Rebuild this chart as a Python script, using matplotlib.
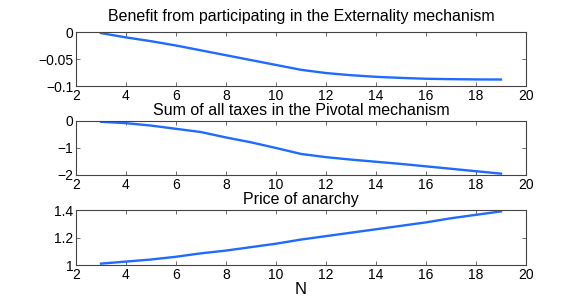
import matplotlib
matplotlib.use("Agg")
import matplotlib.pyplot as plt

# data
n_values = [3, 4, 5, 6, 7, 8, 9, 10, 11, 12, 13, 14, 15, 16, 17, 18, 19]
externality_benefit = [-0.002, -0.010, -0.017, -0.025, -0.034, -0.043, -0.052, -0.061, -0.070,
                       -0.076, -0.080, -0.083, -0.085, -0.0866, -0.0873, -0.0878, -0.088]
pivotal_taxes = [-0.03, -0.08, -0.17, -0.29, -0.41, -0.61, -0.79, -1.00, -1.22,
                 -1.34, -1.43, -1.51, -1.59, -1.68, -1.77, -1.86, -1.95]
price_of_anarchy = [1.01, 1.025, 1.04, 1.06, 1.085, 1.105, 1.13, 1.155, 1.185,
                    1.21, 1.235, 1.26, 1.285, 1.31, 1.34, 1.365, 1.39]

titles = [
    "Benefit from participating in the Externality mechanism",
    "Sum of all taxes in the Pivotal mechanism",
    "Price of anarchy",
]
title_pads = [8, 4.5, 4.5]
y_limits = [(-0.1, 0), (-2, 0), (1, 1.4)]
y_ticks = [[-0.1, -0.05, 0], [-2, -1, 0], [1, 1.2, 1.4]]
y_ticklabels = [["\u22120.1", "\u22120.05", "0"], ["\u22122", "\u22121", "0"], ["1", "1.2", "1.4"]]
x_ticks = [2, 4, 6, 8, 10, 12, 14, 16, 18, 20]

plt.rcParams["font.family"] = ["Liberation Sans", "DejaVu Sans"]

fig = plt.figure(figsize=(5.81, 2.98), dpi=100)
positions = [
    [0.1308, 0.7114, 0.7745, 0.1812],
    [0.1308, 0.4128, 0.7745, 0.1812],
    [0.1308, 0.1107, 0.7745, 0.1846],
]
series = [externality_benefit, pivotal_taxes, price_of_anarchy]

for i in range(3):
    ax = fig.add_axes(positions[i])
    ax.plot(n_values, series[i], color="#1f6bff", linewidth=1.7)
    ax.set_xlim(2, 20)
    ax.set_ylim(y_limits[i])
    ax.set_xticks(x_ticks)
    ax.set_yticks(y_ticks[i])
    ax.set_yticklabels(y_ticklabels[i])
    ax.tick_params(direction="in", top=True, right=True, length=3, width=0.6,
                   labelsize=10, pad=2, colors="#555555", labelcolor="black")
    for spine in ax.spines.values():
        spine.set_linewidth(0.8)
        spine.set_color("#444444")
    ax.set_title(titles[i], fontsize=11.5, pad=title_pads[i])
    if i == 2:
        ax.set_xlabel("N", fontsize=12, labelpad=0)

fig.savefig("out.png", dpi=100)
